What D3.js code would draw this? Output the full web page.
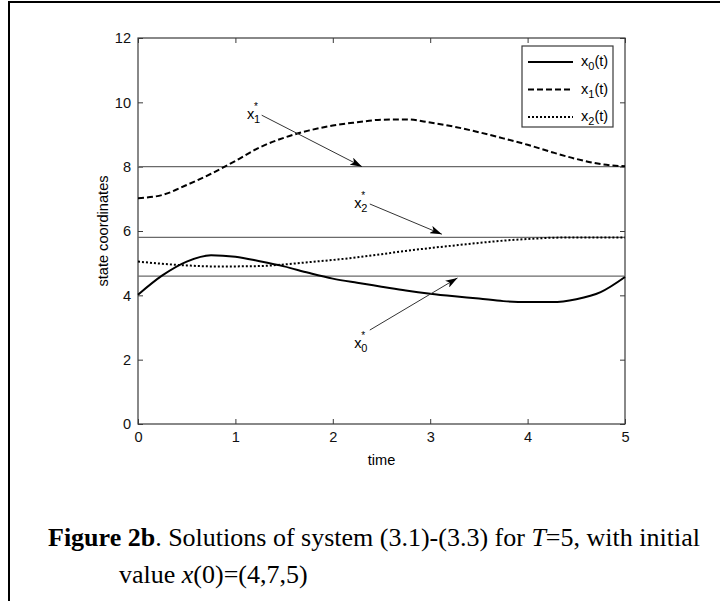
<!DOCTYPE html>
<html><head><meta charset="utf-8">
<script src="https://cdn.jsdelivr.net/npm/d3@7/dist/d3.min.js"></script>
<style>body{margin:0;background:#fff}</style>
</head><body>
<svg id="c" width="720" height="601"></svg>
<script>
// ---- data ----
const times    = [0,0.25,0.5,0.75,1,1.25,1.5,1.75,2,2.25,2.5,2.75,3,3.25,3.5,3.75,4,4.25,4.5,4.75,5];
const x0Values = [4.02,4.62,5.05,5.25,5.2,5.06,4.9,4.7,4.52,4.39,4.27,4.15,4.05,3.97,3.9,3.82,3.79,3.79,3.88,4.1,4.57];
const x1Values = [7.02,7.12,7.43,7.78,8.18,8.6,8.9,9.12,9.28,9.38,9.46,9.47,9.37,9.24,9.07,8.88,8.68,8.45,8.24,8.08,8.01];
const x2Values = [5.05,4.98,4.93,4.9,4.9,4.91,4.96,5.03,5.1,5.18,5.28,5.38,5.47,5.55,5.63,5.7,5.75,5.79,5.8,5.8,5.8];
const seriesSubs = ["0","1","2"];
const equilibria = [4.6, 8, 5.8];           // x0*, x1*, x2*
const xTicks = [0,1,2,3,4,5];
const yTicks = [0,2,4,6,8,10,12];
const annotSubs  = ["1","2","0"];
const annotText  = [[1.12,9.48],[2.22,6.71],[2.22,2.36]];
const annotFrom  = [[1.27,9.6],[2.38,6.84],[2.38,2.92]];
const annotTo    = [[2.3,8.0],[3.12,5.9],[3.28,4.54]];
const xLabel = "time", yLabel = "state coordinates";

// ---- layout ----
const svg = d3.select("#c");
const L = 138, R = 625, T = 38, B = 424;
const x = d3.scaleLinear().domain([0,5]).range([L,R]);
const y = d3.scaleLinear().domain([0,12]).range([B,T]);
const font = "'Liberation Sans', Arial, sans-serif";
const fs = 14.6;
const axisCol = "#3a3a3a", refCol = "#6a6a6a";

// outer frame (left & top edges)
svg.append("line").attr("x1",9).attr("x2",9).attr("y1",1).attr("y2",601).attr("stroke","#000").attr("stroke-width",2);
svg.append("line").attr("x1",8).attr("x2",720).attr("y1",2).attr("y2",2).attr("stroke","#000").attr("stroke-width",2);

// axes
function styleAxis(g){
  g.select(".domain").remove();
  g.selectAll(".tick line").attr("stroke",axisCol);
  g.selectAll("text").attr("font-family",font).attr("font-size",fs).attr("fill","#111");
}
svg.append("g").attr("transform",`translate(0,${B})`)
  .call(d3.axisBottom(x).tickValues(xTicks).tickFormat(d3.format("d")).tickSize(-5).tickPadding(8)).call(styleAxis);
svg.append("g").attr("transform",`translate(0,${T})`)
  .call(d3.axisTop(x).tickValues(xTicks).tickFormat("").tickSize(-5)).call(styleAxis);
svg.append("g").attr("transform",`translate(${L},0)`)
  .call(d3.axisLeft(y).tickValues(yTicks).tickFormat(d3.format("d")).tickSize(-5).tickPadding(7)).call(styleAxis);
svg.append("g").attr("transform",`translate(${R},0)`)
  .call(d3.axisRight(y).tickValues(yTicks).tickFormat("").tickSize(-5)).call(styleAxis);
svg.append("rect").attr("x",L).attr("y",T).attr("width",R-L).attr("height",B-T)
  .attr("fill","none").attr("stroke",axisCol).attr("stroke-width",1.2);

// axis labels
svg.append("text").attr("x",(L+R)/2).attr("y",465).attr("text-anchor","middle")
  .attr("font-family",font).attr("font-size",fs).text(xLabel);
svg.append("text").attr("transform",`translate(108,${(T+B)/2}) rotate(-90)`).attr("text-anchor","middle")
  .attr("font-family",font).attr("font-size",fs).text(yLabel);

// equilibrium lines
svg.selectAll("line.eq").data(equilibria).enter().append("line").attr("class","eq")
  .attr("x1",x(0)).attr("x2",x(5)).attr("y1",d=>y(d)).attr("y2",d=>y(d))
  .attr("stroke",refCol).attr("stroke-width",1.2);

// series
const dashes = [null,"6,3","2,2"];
const seriesVals = [x0Values,x1Values,x2Values];
const line = d3.line().x((d,i)=>x(times[i])).y(d=>y(d)).curve(d3.curveMonotoneX);
seriesVals.forEach((vals,k)=>{
  svg.append("path").attr("d",line(vals)).attr("fill","none").attr("stroke","#000")
    .attr("stroke-width",2).attr("stroke-dasharray",dashes[k]);
});

// arrows
svg.append("defs").append("marker").attr("id","ah").attr("viewBox","0 0 12 8")
  .attr("refX",12).attr("refY",4).attr("markerWidth",12).attr("markerHeight",8)
  .attr("markerUnits","userSpaceOnUse").attr("orient","auto")
  .append("path").attr("d","M0,0 L12,4 L0,8 L3,4 Z").attr("fill","#000");
annotSubs.forEach((s,i)=>{
  svg.append("line").attr("x1",x(annotFrom[i][0])).attr("y1",y(annotFrom[i][1]))
    .attr("x2",x(annotTo[i][0])).attr("y2",y(annotTo[i][1]))
    .attr("stroke","#333").attr("stroke-width",1).attr("marker-end","url(#ah)");
  const tx = x(annotText[i][0]), ty = y(annotText[i][1]);
  const t = svg.append("text").attr("x",tx).attr("y",ty).attr("font-family",font).attr("font-size",fs);
  t.append("tspan").text("x");
  t.append("tspan").attr("x",tx+7).attr("dy",-9).attr("font-size",10).text("*");
  t.append("tspan").attr("x",tx+7).attr("dy",13).attr("font-size",11).text(s);
});

// legend
const lg = svg.append("g");
lg.append("rect").attr("x",522).attr("y",46).attr("width",91).attr("height",81)
  .attr("fill","#fff").attr("stroke",axisCol).attr("stroke-width",1.2);
const rowY = [62,89.5,117];
seriesSubs.forEach((s,k)=>{
  lg.append("line").attr("x1",528).attr("x2",573).attr("y1",rowY[k]).attr("y2",rowY[k])
    .attr("stroke","#000").attr("stroke-width",2).attr("stroke-dasharray",dashes[k]);
  const t = lg.append("text").attr("x",581).attr("y",rowY[k]+4).attr("font-family",font).attr("font-size",fs);
  t.append("tspan").text("x");
  t.append("tspan").attr("dy",4).attr("font-size",11).text(s);
  t.append("tspan").attr("dy",-4).text("(t)");
});

// caption
const serif = "'Liberation Serif','Times New Roman',serif";
const c1 = svg.append("text").attr("x",48).attr("y",546).attr("font-family",serif).attr("font-size",26);
c1.append("tspan").attr("font-weight","bold").text("Figure 2b");
c1.append("tspan").text(". Solutions of system (3.1)-(3.3) for ");
c1.append("tspan").attr("font-style","italic").text("T");
c1.append("tspan").text("=5, with initial");
const c2 = svg.append("text").attr("x",119).attr("y",583).attr("font-family",serif).attr("font-size",26);
c2.append("tspan").text("value ");
c2.append("tspan").attr("font-style","italic").text("x");
c2.append("tspan").text("(0)=(4,7,5)");
</script>
</body></html>
